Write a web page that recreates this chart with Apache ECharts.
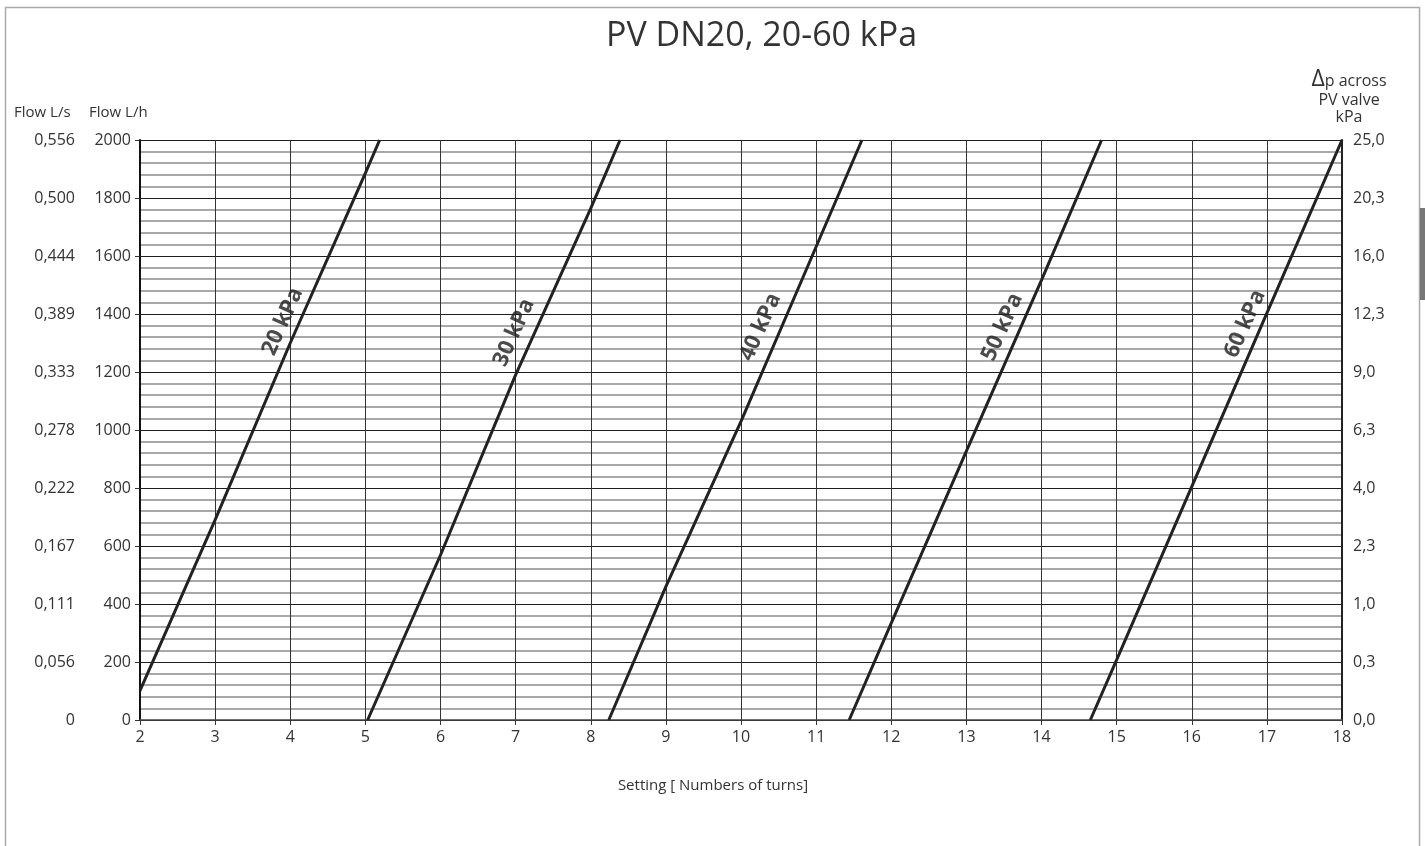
<!DOCTYPE html>
<html>
<head>
<meta charset="utf-8">
<script src="https://cdn.jsdelivr.net/npm/echarts@6/dist/echarts.min.js"></script>
<style>
html,body{margin:0;padding:0;background:#fff;}
#chart{width:1425px;height:846px;}
</style>
</head>
<body>
<div id="chart"></div>
<script>
// ---- data ----
const titleText = 'PV DN20, 20-60 kPa';
const xName = 'Setting [ Numbers of turns]';
const curveNames = ['20 kPa', '30 kPa', '40 kPa', '50 kPa', '60 kPa'];
// [setting (turns), flow L/h]
const line20 = [[2.00, 101], [3, 690], [4, 1300], [5, 1886], [5.19, 2000]];
const line30 = [[5.03, 0], [6, 569], [7, 1190], [8, 1764], [8.39, 2000]];
const line40 = [[8.24, 0], [9, 460], [10, 1030], [11, 1632], [11.61, 2000]];
const line50 = [[11.44, 0], [12, 334], [13, 927], [14, 1517], [14.80, 2000]];
const line60 = [[14.65, 0], [15, 207], [16, 805], [17, 1403], [18, 2000]];
const curveLabelPos = [[3.90, 1374], [6.98, 1336], [10.26, 1355], [13.48, 1355], [16.71, 1366]];
// tick labels
const flowLsLabels = ['0', '0,056', '0,111', '0,167', '0,222', '0,278', '0,333', '0,389', '0,444', '0,500', '0,556'];
const dpLabels = ['0,0', '0,3', '1,0', '2,3', '4,0', '6,3', '9,0', '12,3', '16,0', '20,3', '25,0'];
const flowMin = 0, flowMax = 2000, flowStep = 200;
const setMin = 2, setMax = 18, setStep = 1;

const curves = [line20, line30, line40, line50, line60];
const font = '"Open Sans", "Noto Sans", sans-serif';
const txt = '#333';

const chart = echarts.init(document.getElementById('chart'), null, {renderer: 'canvas'});

const series = curves.map((d, i) => ({
  name: curveNames[i],
  type: 'line',
  data: d,
  xAxisIndex: 0,
  yAxisIndex: 0,
  showSymbol: false,
  symbol: 'none',
  lineStyle: {color: '#222', width: 3},
  z: 5,
  silent: true
}));
series.push({
  type: 'scatter',
  xAxisIndex: 0,
  yAxisIndex: 0,
  symbolSize: 0,
  data: curveLabelPos.map((p, i) => ({value: p, name: curveNames[i]})),
  label: {
    show: true,
    position: 'inside',
    formatter: p => p.name,
    rotate: 66,
    fontFamily: font,
    fontWeight: 'bold',
    fontSize: 22,
    color: '#1e1e1e'
  },
  z: 6,
  silent: true
});

const option = {
  animation: false,
  backgroundColor: '#fff',
  title: {
    text: titleText,
    left: 601,
    top: 14,
    textStyle: {fontFamily: font, fontSize: 34, fontWeight: 'normal', color: txt}
  },
  grid: {left: 140, right: 83, top: 140, bottom: 126, containLabel: false},
  xAxis: [{
    type: 'value',
    min: setMin, max: setMax, interval: setStep,
    axisLine: {show: true, onZero: false, lineStyle: {color: '#444', width: 1.5}},
    axisTick: {show: true, length: 5, lineStyle: {color: '#333'}},
    axisLabel: {fontFamily: font, fontSize: 16, color: txt, margin: 9},
    splitLine: {show: true, lineStyle: {color: '#333', width: 1}}
  }],
  yAxis: [{
    type: 'value',
    position: 'left',
    min: flowMin, max: flowMax, interval: flowStep,
    axisLine: {show: true, onZero: false, lineStyle: {color: '#111', width: 2}},
    axisTick: {show: true, length: 5, lineStyle: {color: '#333'}},
    axisLabel: {fontFamily: font, fontSize: 16, color: txt, margin: 9, formatter: v => String(v)},
    splitLine: {show: true, lineStyle: {color: '#1e1e1e', width: 1}},
    minorTick: {show: false, splitNumber: 5},
    minorSplitLine: {show: true, lineStyle: {color: '#8c8c8c', width: 1.5}}
  }, {
    type: 'value',
    position: 'left',
    offset: 57,
    min: flowMin, max: flowMax, interval: flowStep,
    axisLine: {show: false},
    axisTick: {show: false},
    splitLine: {show: false},
    axisLabel: {
      fontFamily: font, fontSize: 16, color: txt, margin: 8,
      formatter: v => flowLsLabels[Math.round(v / flowStep)]
    }
  }, {
    type: 'value',
    position: 'right',
    min: flowMin, max: flowMax, interval: flowStep,
    axisLine: {show: true, onZero: false, lineStyle: {color: '#222', width: 2}},
    axisTick: {show: false},
    splitLine: {show: false},
    axisLabel: {
      fontFamily: font, fontSize: 16, color: txt, margin: 11,
      formatter: v => dpLabels[Math.round(v / flowStep)]
    }
  }],
  graphic: [
    {type: 'rect', shape: {x: 5.5, y: 7.5, width: 1414, height: 900}, style: {fill: 'none', stroke: '#aaa', lineWidth: 1.5}, silent: true, z: -10},
    {type: 'rect', shape: {x: 1420, y: 208, width: 5, height: 92}, style: {fill: '#777'}, silent: true},
    {type: 'text', x: 713, y: 786, style: {text: xName, font: '15px ' + font, fill: txt, textAlign: 'center', textVerticalAlign: 'middle'}},
    {type: 'text', left: 14, top: 105, style: {text: 'Flow L/s', font: '15px ' + font, fill: txt}},
    {type: 'text', left: 89, top: 105, style: {text: 'Flow L/h', font: '15px ' + font, fill: txt}},
    {type: 'text', x: 1349, y: 79, style: {
      text: '{d|\u0394}{t|p across}', textAlign: 'center', textVerticalAlign: 'middle',
      rich: {d: {fontSize: 23, fontFamily: font, fill: txt, color: txt}, t: {fontSize: 16, fontFamily: font, color: txt, fill: txt, padding: [4, 0, 0, 0]}}
    }},
    {type: 'text', x: 1349, y: 100, style: {text: 'PV valve', font: '16px ' + font, fill: txt, textAlign: 'center', textVerticalAlign: 'middle'}},
    {type: 'text', x: 1349, y: 117, style: {text: 'kPa', font: '16px ' + font, fill: txt, textAlign: 'center', textVerticalAlign: 'middle'}}
  ],
  series: series
};
chart.setOption(option);
</script>
</body>
</html>
